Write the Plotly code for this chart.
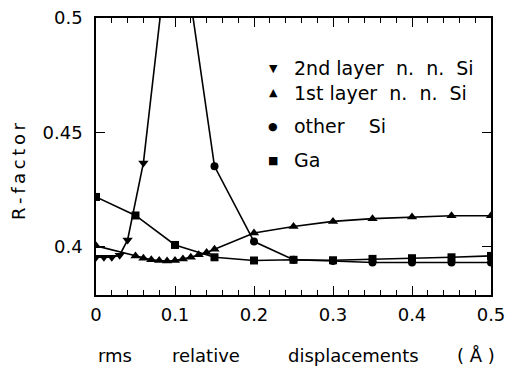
import plotly.graph_objects as go

# ---- data ----
x_2nd = [0, 0.01, 0.02, 0.03, 0.04, 0.06, 0.1]
r_2nd = [0.3953, 0.3953, 0.3953, 0.3962, 0.4029, 0.4366, 0.557]

x_1st = [0, 0.05, 0.06, 0.07, 0.08, 0.09, 0.10, 0.11, 0.12, 0.13, 0.14, 0.15,
         0.2, 0.25, 0.3, 0.35, 0.4, 0.45, 0.5]
r_1st = [0.4003, 0.3959, 0.3949, 0.3942, 0.3939, 0.3937, 0.3939, 0.3945, 0.3953,
         0.3964, 0.3974, 0.3988, 0.4059, 0.4088, 0.4110, 0.4122, 0.4129, 0.4135, 0.4135]

x_other = [0.1, 0.15, 0.2, 0.25, 0.3, 0.35, 0.4, 0.45, 0.5]
r_other = [0.555, 0.4351, 0.4022, 0.3942, 0.3937, 0.3930, 0.3930, 0.3930, 0.3930]

x_ga = [0, 0.05, 0.1, 0.15, 0.2, 0.25, 0.3, 0.35, 0.4, 0.45, 0.5]
r_ga = [0.4217, 0.4136, 0.4007, 0.3953, 0.3939, 0.3942, 0.3940, 0.3946, 0.3949, 0.3953, 0.3959]

legend_labels = ["2nd\u00a0layer\u00a0\u00a0n.\u00a0\u00a0n.\u00a0\u00a0Si",
                 "1st\u00a0layer\u00a0\u00a0n.\u00a0\u00a0n.\u00a0\u00a0Si",
                 "other\u00a0\u00a0\u00a0\u00a0Si",
                 "Ga"]
legend_glyphs = ["\u25BC", "\u25B2", "\u25CF", "\u25A0"]

FONT = "DejaVu Sans"
W, H = 508, 370
ML, MR, MT, MB = 96, 17, 18, 75
PW, PH = W - ML - MR, H - MT - MB


def px2paper(px, py):
    return (px - ML) / PW, (H - MB - py) / PH


fig = go.Figure()
series = [
    (x_2nd, r_2nd, "triangle-down", 9),
    (x_1st, r_1st, "triangle-up", 9),
    (x_other, r_other, "circle", 8),
    (x_ga, r_ga, "square", 8),
]
for xs, ys, sym, sz in series:
    fig.add_trace(go.Scatter(
        x=xs, y=ys, mode="lines+markers",
        line=dict(color="black", width=1.6),
        marker=dict(symbol=sym, size=sz, color="black"),
        showlegend=False,
    ))

axis_common = dict(
    showline=True, linecolor="black", linewidth=1.6, mirror="ticks",
    ticks="inside", tickcolor="black", tickwidth=1.2, ticklen=9,
    showgrid=False, zeroline=False, automargin=False,
    tickfont=dict(family=FONT, size=18, color="black"),
)
fig.update_xaxes(range=[0, 0.5], dtick=0.1, tick0=0,
                 minor=dict(dtick=0.02, ticks="inside", ticklen=5, tickcolor="black", tickwidth=1.2),
                 ticklabelstandoff=3, **axis_common)
fig.update_yaxes(range=[0.3788, 0.5], dtick=0.05, tick0=0.4,
                 ticklabelstandoff=8, **axis_common)

ann = []
# legend
rows_y = [68, 93, 126, 160]
for g, lab, ry in zip(legend_glyphs, legend_labels, rows_y):
    gx, gy = px2paper(273, ry)
    ann.append(dict(x=gx, y=gy, xref="paper", yref="paper", text=g, showarrow=False,
                    xanchor="center", yanchor="middle",
                    font=dict(family=FONT, size=11, color="black")))
    tx, ty = px2paper(292, ry)
    ann.append(dict(x=tx, y=ty, xref="paper", yref="paper", text=lab, showarrow=False,
                    xanchor="left", yanchor="middle",
                    font=dict(family=FONT, size=19, color="black")))

# x title words
for word, cx in [("rms", 114.5), ("relative", 206), ("displacements", 353.5), ("(\u00a0Å\u00a0)", 476)]:
    ax_, ay_ = px2paper(cx, 355)
    ann.append(dict(x=ax_, y=ay_, xref="paper", yref="paper", text=word, showarrow=False,
                    xanchor="center", yanchor="middle",
                    font=dict(family=FONT, size=18, color="black")))

# y title
yx, yy = px2paper(18, 172)
ann.append(dict(x=yx, y=yy, xref="paper", yref="paper",
                text="R\u2009-\u2009f\u2009a\u2009c\u2009t\u2009o\u2009r", showarrow=False,
                textangle=-90, xanchor="center", yanchor="middle",
                font=dict(family=FONT, size=18, color="black")))

fig.update_layout(
    width=W, height=H,
    margin=dict(l=ML, r=MR, t=MT, b=MB, pad=0, autoexpand=False),
    paper_bgcolor="white", plot_bgcolor="white",
    annotations=ann,
    showlegend=False,
)

fig.write_html("out.html")
